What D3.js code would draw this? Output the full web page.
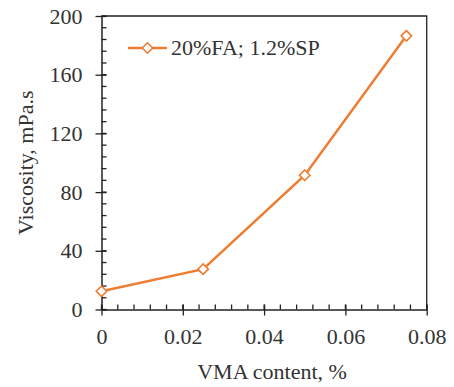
<!DOCTYPE html>
<html>
<head>
<meta charset="utf-8">
<script src="https://cdn.jsdelivr.net/npm/d3@7"></script>
<style>
body{margin:0;background:#fff;}
</style>
</head>
<body>
<div class="Graph"></div>
<script>
// data
const vma = [0, 0.025, 0.05, 0.075];
const viscosity = [12.4, 27.5, 91.5, 186.5];
const seriesName = "20%FA; 1.2%SP";
const xTicks = [0, 0.02, 0.04, 0.06, 0.08];
const yTicks = [0, 40, 80, 120, 160, 200];

const W = 454, H = 387;
const mLeft = 101.5, mRight = 426.7, mTop = 16, mBottom = 309.5;
const orange = "#ED7D31";
const serif = "'Liberation Serif', 'Times New Roman', serif";
const fs = "22px";

let svg = d3.select(".Graph").append("svg")
    .attr("width", W).attr("height", H);

let x = d3.scaleLinear().domain([0, 0.08]).range([mLeft, mRight]);
let y = d3.scaleLinear().domain([0, 200]).range([mBottom, mTop]);

// frame top/right
svg.append("path")
    .attr("d", `M${mLeft},${mTop}H${mRight}V${mBottom}`)
    .attr("fill", "none").attr("stroke", "#222").attr("stroke-width", 1.3);

// minor ticks (inside)
let xMinor = d3.range(0, 0.0801, 0.004);
let yMinor = d3.range(0, 200.1, 8);

let gx = svg.append("g").attr("transform", `translate(0,${mBottom})`);
gx.selectAll(".mn").data(xMinor).enter().append("line")
    .attr("x1", d => x(d)).attr("x2", d => x(d))
    .attr("y1", 0).attr("y2", -5)
    .attr("stroke", "#222").attr("stroke-width", 1.3);
gx.call(d3.axisBottom(x).tickValues(xTicks).tickFormat(d => d === 0 ? "0" : d3.format(".2f")(d))
    .tickSizeInner(6).tickSizeOuter(0).tickPadding(13));
gx.selectAll(".tick line").attr("y1", -5).attr("y2", 6);

let gy = svg.append("g").attr("transform", `translate(${mLeft},0)`);
gy.selectAll(".mn").data(yMinor).enter().append("line")
    .attr("y1", d => y(d)).attr("y2", d => y(d))
    .attr("x1", 0).attr("x2", 5)
    .attr("stroke", "#222").attr("stroke-width", 1.3);
gy.call(d3.axisLeft(y).tickValues(yTicks).tickSizeInner(6).tickSizeOuter(0).tickPadding(13));
gy.selectAll(".tick line").attr("x1", -6).attr("x2", 5);

svg.selectAll(".domain").attr("stroke", "#222").attr("stroke-width", 1.5);
svg.selectAll(".tick line").attr("stroke", "#222").attr("stroke-width", 1.3);
gx.attr("font-family", serif).attr("font-size", fs);
gy.attr("font-family", serif).attr("font-size", fs);
svg.selectAll(".tick text").attr("fill", "#333");

// series line
let line = d3.line().x((d, i) => x(vma[i])).y(d => y(d));
svg.append("path").datum(viscosity)
    .attr("d", line).attr("fill", "none")
    .attr("stroke", orange).attr("stroke-width", 2.5);

let diamond = d3.symbol().type(d3.symbolDiamond2).size(70);
svg.selectAll(".pt").data(viscosity).enter().append("path")
    .attr("class", "pt")
    .attr("d", diamond)
    .attr("transform", (d, i) => `translate(${x(vma[i])},${y(d)})`)
    .attr("fill", "#fff").attr("stroke", orange).attr("stroke-width", 1.6);

// legend
let lg = svg.append("g").attr("transform", "translate(128,48)");
lg.append("line").attr("x1", 0).attr("x2", 39).attr("y1", 0).attr("y2", 0)
    .attr("stroke", orange).attr("stroke-width", 2.5);
lg.append("path").attr("d", diamond).attr("transform", "translate(19.5,0)")
    .attr("fill", "#fff").attr("stroke", orange).attr("stroke-width", 1.6);
lg.append("text").attr("x", 43).attr("y", 7)
    .attr("font-family", serif).attr("font-size", fs).attr("fill", "#333").text(seriesName);

// axis titles
svg.append("text").attr("x", (mLeft + mRight) / 2 + 8).attr("y", 379)
    .attr("text-anchor", "middle").attr("font-family", serif).attr("font-size", fs)
    .attr("fill", "#333").text("VMA content, %");
svg.append("text").attr("transform", `translate(33,${(mTop + mBottom) / 2}) rotate(-90)`)
    .attr("text-anchor", "middle").attr("font-family", serif).attr("font-size", fs)
    .attr("fill", "#333").text("Viscosity, mPa.s");
</script>
</body>
</html>
